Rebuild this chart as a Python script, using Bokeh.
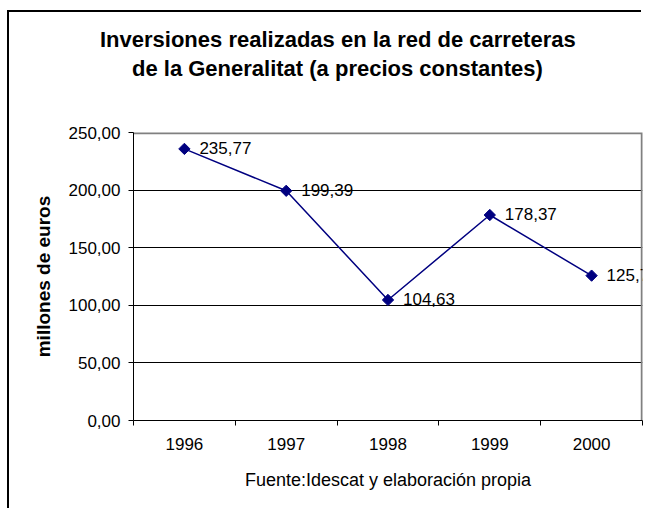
from math import pi
from bokeh.plotting import figure
from bokeh.models import ColumnDataSource, FixedTicker, Range1d, Title
from bokeh.embed import file_html
from bokeh.resources import INLINE
from bokeh.core.properties import value

# ---- data ----
years = ["1996", "1997", "1998", "1999", "2000"]
investments = [235.77, 199.39, 104.63, 178.37, 125.75]
y_ticks = [0, 50, 100, 150, 200, 250]
y_tick_labels = ["0,00", "50,00", "100,00", "150,00", "200,00", "250,00"]
title_lines = ["Inversiones realizadas en la red de carreteras",
               "de la Generalitat (a precios constantes)"]
y_label = "millones de euros"
x_label = "Fuente:Idescat y elaboración propia"

FONT = "Liberation Sans"
NAVY = "#000080"
GRAY = "#808080"

xs = list(range(1, len(years) + 1))
labels = [f"{v:.2f}".replace(".", ",") for v in investments]
src = ColumnDataSource(dict(x=xs, y=investments, label=labels))

x0, x1 = 0.5, len(years) + 0.5
y0, y1 = y_ticks[0], y_ticks[-1]

p = figure(width=634, height=498, output_backend="svg", toolbar_location=None,
           x_range=Range1d(x0, x1), y_range=Range1d(y0, y1),
           min_border_left=124, min_border_right=1, min_border_top=120, min_border_bottom=90)
p.styles = {"box-shadow": "-2px -2px 0 0 black",
            "margin-left": "9px", "margin-top": "12px"}

p.background_fill_color = "white"
p.border_fill_color = "white"
p.outline_line_color = None

# plot-area border (top and right, gray)
p.line([x0, x1, x1], [y1, y1, y0], line_color=GRAY, line_width=3.5)

# x axis
xa = p.xaxis[0]
xa.ticker = FixedTicker(ticks=xs, minor_ticks=[i + 0.5 for i in range(len(years) + 1)])
xa.major_label_overrides = {x: y for x, y in zip(xs, years)}
xa.major_tick_out = 0
xa.major_tick_in = 0
xa.minor_tick_out = 5
xa.minor_tick_in = 0
xa.minor_tick_line_color = "black"
xa.axis_line_color = "black"
xa.major_label_standoff = 12
xa.major_label_text_font = FONT
xa.major_label_text_font_size = "17px"
xa.major_label_text_color = "black"
xa.axis_label = x_label
xa.axis_label_text_font = FONT
xa.axis_label_text_font_size = "18px"
xa.axis_label_text_font_style = "normal"
xa.axis_label_text_color = "black"
xa.axis_label_standoff = 17

# y axis
ya = p.yaxis[0]
ya.ticker = FixedTicker(ticks=y_ticks, minor_ticks=[])
ya.major_label_overrides = {t: s for t, s in zip(y_ticks, y_tick_labels)}
ya.major_tick_out = 5
ya.major_tick_in = 0
ya.major_tick_line_color = "black"
ya.axis_line_color = "black"
ya.major_label_standoff = 8
ya.major_label_text_font = FONT
ya.major_label_text_font_size = "17px"
ya.major_label_text_color = "black"
ya.axis_label = y_label
ya.axis_label_text_font = FONT
ya.axis_label_text_font_size = "19px"
ya.axis_label_text_font_style = "bold"
ya.axis_label_text_color = "black"
ya.axis_label_standoff = 12

p.xgrid.visible = False
p.ygrid.ticker = FixedTicker(ticks=y_ticks[1:-1])
p.ygrid.grid_line_color = "black"
p.ygrid.grid_line_width = 1

# series
p.line("x", "y", source=src, line_color=NAVY, line_width=1.5)
p.scatter("x", "y", source=src, marker="square", angle=pi / 4, size=8,
          fill_color=NAVY, line_color=NAVY)
p.text("x", "y", text="label", source=src, x_offset=15, y_offset=-1,
       text_baseline="middle", text_align="left",
       text_font=value(FONT), text_font_size="17px", text_color="black")

# spacer between frame and title, then the two title lines (inner first)
p.add_layout(Title(text=" ", standoff=26, text_font=FONT, text_font_size="21px",
                   border_line_color=None, background_fill_color=None), "above")
for txt, off in [(title_lines[1], -1.5), (title_lines[0], -33.5)]:
    p.add_layout(Title(text=txt, align="left", offset=off, standoff=2,
                       text_font=FONT, text_font_size="22px", text_font_style="bold",
                       text_color="black", border_line_color=None,
                       background_fill_color=None), "above")

open("out.html", "w").write(file_html(p, INLINE))
